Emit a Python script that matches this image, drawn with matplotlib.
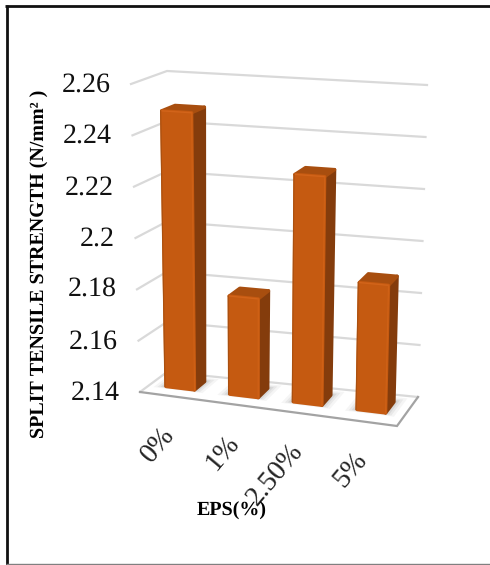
import matplotlib
matplotlib.use("Agg")
import matplotlib.pyplot as plt
from matplotlib.patches import Polygon

plt.rcParams['font.family'] = ['Liberation Serif', 'DejaVu Serif']
plt.rcParams['text.hinting'] = 'no_hinting'
plt.rcParams['text.hinting_factor'] = 1

categories = ['0%', '1%', '2.50%', '5%']
values = [2.248, 2.178, 2.227, 2.188]
y_ticks = [2.14, 2.16, 2.18, 2.20, 2.22, 2.24, 2.26]
y_tick_labels = ['2.14', '2.16', '2.18', '2.2', '2.22', '2.24', '2.26']
y_title = 'SPLIT TENSILE STRENGTH (N/mm\u00b2 )'
x_title = 'EPS(%)'

# 3D-looking scale: (u along categories, z front-ness 0 back..1 front, value) -> pixel
V0, V1 = y_ticks[0], y_ticks[-1]
U1 = len(categories)
BOT = {'BL': (167, 372), 'BR': (418, 397), 'FL': (140, 392), 'FR': (397, 426)}
TOP = {'BL': (167, 71), 'BR': (427, 85), 'FL': (131, 84), 'FR': (405, 101)}


def plane(c, u, z):
    a = u / U1
    res = []
    for k in (0, 1):
        back = c['BL'][k] * (1 - a) + c['BR'][k] * a
        front = c['FL'][k] * (1 - a) + c['FR'][k] * a
        res.append(back * (1 - z) + front * z)
    return res


def proj(u, z, v):
    t = (v - V0) / (V1 - V0)
    b = plane(BOT, u, z)
    h = plane(TOP, u, z)
    return (b[0] * (1 - t) + h[0] * t, b[1] * (1 - t) + h[1] * t)


fig = plt.figure(figsize=(4.9, 5.65), dpi=100)
ax = fig.add_axes([0, 0, 1, 1])
ax.set_xlim(0, 490)
ax.set_ylim(565, 0)
ax.axis('off')

# figure frame
ax.plot([6.5, 6.5], [5, 565], color='#111111', lw=2.0, solid_capstyle='butt', zorder=1)
ax.plot([5, 490], [5.8, 5.8], color='#111111', lw=2.0, solid_capstyle='butt', zorder=1)
ax.plot([6, 490], [564.3, 564.3], color='#808080', lw=1.0, solid_capstyle='butt', zorder=1)

# gridlines: left wall + back wall
for v in y_ticks[1:]:
    xs, ys = zip(proj(0, 1, v), proj(0, 0, v), proj(U1, 0, v))
    ax.plot(xs, ys, color='#D9D9D9', lw=1.6, solid_joinstyle='miter', zorder=2)
xs, ys = zip(proj(0, 0, V0), proj(U1, 0, V0))
ax.plot(xs, ys, color='#D9D9D9', lw=1.6, zorder=2)
xs, ys = zip(proj(0, 1, V0), proj(0, 0, V0))
ax.plot(xs, ys, color='#D9D9D9', lw=1.6, zorder=2)

# floor
xs, ys = zip(proj(0, 1, V0), proj(U1, 1, V0), proj(U1, 0, V0))
ax.plot(xs, ys, color='#A3A3A3', lw=1.6, solid_joinstyle='miter', zorder=2.2)

# bars
HALF = 0.224
SHIFT = -0.025
ZF, ZB = 0.63, 0.24
FRONT = '#C55A11'
SIDE = '#843C0C'
TOPC = '#A84E0F'
for i, val in enumerate(values):
    c = i + 0.5 + SHIFT
    ul, ur = c - HALF, c + HALF
    # soft shadow on the floor
    for grow, a in ((0.16, 0.05), (0.11, 0.07), (0.07, 0.09), (0.035, 0.12)):
        sh = [proj(ul - grow, ZF + grow * 0.55, V0), proj(ur + grow, ZF + grow * 0.55, V0),
              proj(ur + grow, ZB - grow, V0), proj(ul - grow, ZB - grow, V0)]
        ax.add_patch(Polygon(sh, closed=True, fc='#404040', ec='none', alpha=a, zorder=3))

    fl0, fr0 = proj(ul, ZF, V0), proj(ur, ZF, V0)
    fl1, fr1 = proj(ul, ZF, val), proj(ur, ZF, val)
    bl1, br1 = proj(ul, ZB, val), proj(ur, ZB, val)
    br0 = proj(ur, ZB, V0)
    kw = dict(closed=True, lw=2.4, joinstyle='round', zorder=4 + i)
    ax.add_patch(Polygon([fr0, br0, br1, fr1], fc=SIDE, ec=SIDE, **kw))
    ax.add_patch(Polygon([fl1, fr1, br1, bl1], fc=TOPC, ec=TOPC, **kw))
    ax.add_patch(Polygon([fl0, fr0, fr1, fl1], fc=FRONT, ec=FRONT, **kw))
    # bevel highlights
    ax.plot([fl1[0], fr1[0]], [fl1[1], fr1[1]], color='#D2641A', lw=1.0, zorder=4 + i + 0.1,
            solid_capstyle='round')
    ax.plot([fr1[0], fr0[0]], [fr1[1], fr0[1]], color='#CF6116', lw=0.9, zorder=4 + i + 0.1,
            solid_capstyle='round')
    ax.plot([fl1[0] - 1.0, fl0[0] - 1.0], [fl1[1], fl0[1]], color='#A95010', lw=0.8, zorder=4 + i + 0.1)

# y tick labels follow the left wall
for v, lab in zip(y_ticks, y_tick_labels):
    x, y = proj(0, 1, v)
    ax.text(x - 20.5, y + 1.0, lab, ha='right', va='center', fontsize=20, color='#111111', zorder=20)

# category labels
for i, lab in enumerate(categories):
    x, y = proj(i + 0.5, 1, V0)
    ax.text(x + 8, y + 26, lab, rotation=50, ha='right', va='top', fontsize=20,
            color='#222222', zorder=20)

ax.text(232, 511, x_title, ha='center', va='center', fontsize=14.5, fontweight='bold',
        color='black', zorder=21)
ax.text(40, 263.5, y_title, rotation=90, ha='center', va='center', fontsize=14.5,
        fontweight='bold', color='black', zorder=21)

fig.savefig('out.png', dpi=100)
